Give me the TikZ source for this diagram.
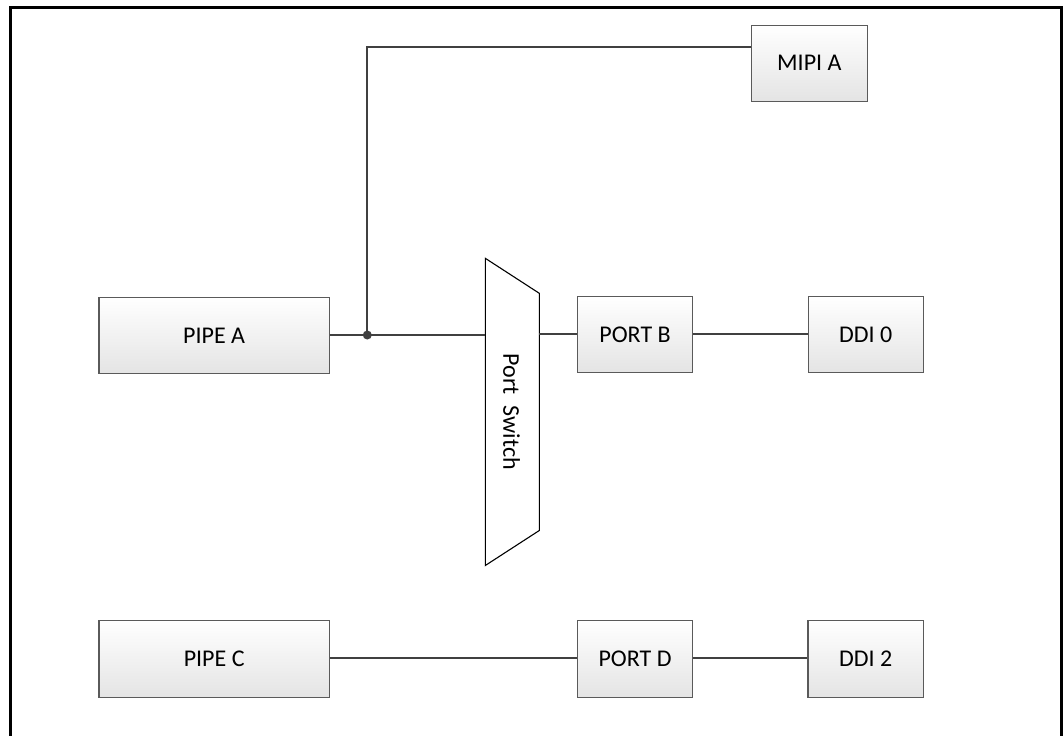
\documentclass[tikz,border=0pt]{standalone}
\usepackage{fontspec}
\setmainfont{Carlito}
\usetikzlibrary{calc}
\definecolor{boxline}{HTML}{5A5A5A}
\definecolor{wire}{HTML}{404040}
\definecolor{boxbot}{HTML}{E4E4E4}
\tikzset{
  blk/.style={draw=boxline, line width=1.2pt, top color=white, bottom color=boxbot,
    minimum width=#1, minimum height=76pt, inner sep=0pt, font=\fontsize{24}{26}\selectfont, anchor=north west},
  wireline/.style={draw=wire, line width=2pt},
}
\begin{document}
\begin{tikzpicture}[x=1pt,y=-1pt]
\useasboundingbox (0,0) rectangle (1063,736);
\clip (0,0) rectangle (1063,736);
\draw[line width=3pt] (10,7) -- (1061.5,7) -- (1061.5,745) -- (10,745) -- cycle;

\node[blk=115.5pt] (mipi) at (751,24.5) {MIPI A};
\node[blk=230.5pt] (pipea) at (98.3,297) {PIPE A};
\node[blk=115.5pt] (portb) at (576.7,296) {PORT B};
\node[blk=115pt] (ddi0) at (807.7,296) {DDI 0};
\node[blk=230.5pt, minimum height=77pt] (pipec) at (98.3,619.5) {PIPE C};
\node[blk=115.5pt, minimum height=77pt] (portd) at (576.7,619.5) {PORT D};
\node[blk=115.5pt, minimum height=77pt] (ddi2) at (807.3,619.5) {DDI 2};

% Port switch trapezoid
\coordinate (swtl) at (485.3,258.3);
\coordinate (swtr) at (539.3,293.3);
\coordinate (swbr) at (539.3,530.5);
\coordinate (swbl) at (485.3,565.5);
\draw[line width=1.1pt, fill=white] (swtl) -- (swtr) -- (swbr) -- (swbl) -- cycle;
\node[rotate=-90, font=\fontsize{24}{26}\selectfont, inner sep=0pt] (sw) at (511.5,411.9) {Port\ \ Switch};

\coordinate (dot) at (367.3,335);
\coordinate (corner) at (367.3,46.7);
\coordinate (swin) at (485.3,335);
\coordinate (swout) at (539.3,334);

\draw[wireline] (pipea.east |- dot) -- (swin);
\draw[wireline] (dot) -- (corner) -- (mipi.west |- corner);
\fill[wire] (dot) circle (4.5pt);
\draw[wireline] (swout) -- (portb.west |- swout);
\draw[wireline] (portb.east |- 0,333.5) -- (ddi0.west |- 0,333.5);
\draw[wireline] (pipec.east |- 0,657.5) -- (portd.west |- 0,657.5);
\draw[wireline] (portd.east |- 0,657.5) -- (ddi2.west |- 0,657.5);
\end{tikzpicture}
\end{document}
